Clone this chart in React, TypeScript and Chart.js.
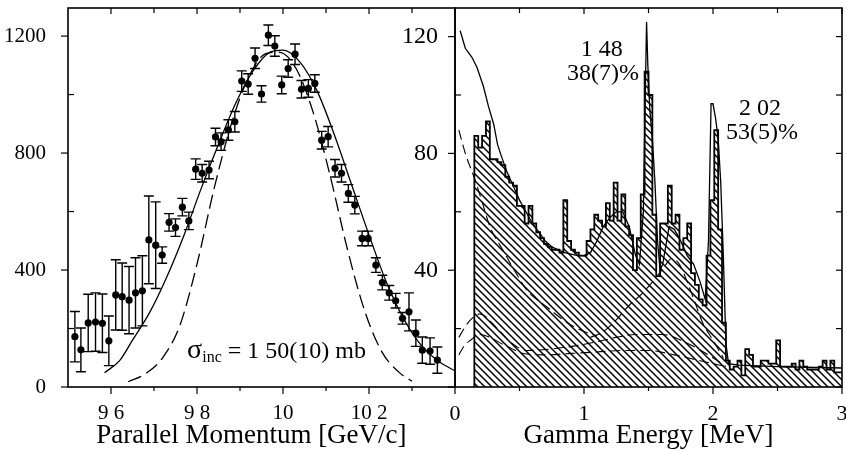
import React, { useEffect, useRef } from 'react';
import { Chart, registerables } from 'chart.js';

Chart.register(...registerables);

const SERIF = "'Liberation Serif', 'Times New Roman', Times, serif";

// ---------------- Left panel: parallel momentum ----------------
const momentumTicks = [9.6, 9.8, 10.0, 10.2];
const momentumTickLabels = ['9 6', '9 8', '10', '10 2'];
const momentumMinorTicks = [9.7, 9.9, 10.1, 10.3];
const yieldTicks = [0, 400, 800, 1200];
const yieldMinorTicks = [200, 600, 1000];

const momentum = [
  9.516, 9.530, 9.547, 9.564, 9.580, 9.595, 9.611, 9.626, 9.642, 9.657,
  9.673, 9.688, 9.704, 9.719, 9.735, 9.750, 9.766, 9.781, 9.797, 9.812,
  9.828, 9.843, 9.856, 9.873, 9.888, 9.904, 9.919, 9.935, 9.950, 9.966,
  9.981, 9.997, 10.012, 10.028, 10.043, 10.059, 10.074, 10.090, 10.105, 10.121,
  10.136, 10.152, 10.167, 10.184, 10.198, 10.216, 10.231, 10.247, 10.262, 10.278,
  10.293, 10.309, 10.324, 10.342, 10.359,
];
const counts = [
  172, 127, 219, 222, 218, 158, 315, 309, 297, 322,
  329, 503, 485, 451, 563, 545, 615, 568, 745, 731,
  742, 855, 839, 879, 907, 1046, 1036, 1124, 1002, 1203,
  1166, 1033, 1089, 1138, 1018, 1021, 1038, 844, 856, 748,
  731, 662, 622, 508, 508, 417, 357, 322, 295, 235,
  257, 184, 126, 123, 92,
];
const countErrors = [
  86, 75, 98, 100, 100, 85, 120, 115, 115, 120,
  120, 150, 148, 28, 30, 30, 30, 30, 35, 30,
  30, 30, 30, 35, 35, 35, 35, 35, 28, 35,
  35, 30, 30, 35, 30, 30, 30, 30, 35, 30,
  30, 30, 30, 25, 25, 25, 25, 25, 25, 20,
  65, 45, 45, 45, 45,
];

const fitMomentum = [
  9.585, 9.62, 9.65, 9.69, 9.73, 9.77, 9.81, 9.85, 9.89, 9.93, 9.97, 10.0,
  10.04, 10.08, 10.12, 10.16, 10.2, 10.24, 10.28, 10.32, 10.36, 10.4,
];
const fitCounts = [
  49, 90, 160, 255, 377, 520, 680, 830, 970, 1080, 1145, 1152,
  1110, 1010, 860, 690, 520, 360, 235, 145, 90, 55,
];

const narrowMomentum = [
  9.64, 9.68, 9.72, 9.76, 9.8, 9.84, 9.88, 9.92, 9.96, 9.99,
  10.03, 10.07, 10.11, 10.15, 10.19, 10.23, 10.27, 10.3,
];
const narrowCounts = [
  18, 45, 100, 210, 420, 680, 900, 1060, 1140, 1145,
  1090, 940, 720, 470, 260, 120, 50, 20,
];

// ---------------- Right panel: gamma energy ----------------
const energyTicks = [0, 1, 2, 3];
const energyMinorTicks = [0.5, 1.5, 2.5];
const gammaTicks = [0, 40, 80, 120];
const gammaLabelTicks = [40, 80, 120];
const gammaMinorTicks = [20, 60, 100];

const binEdges = [
  0.15, 0.18, 0.21, 0.24, 0.27, 0.30, 0.33, 0.36, 0.39, 0.42,
  0.45, 0.48, 0.51, 0.54, 0.57, 0.60, 0.63, 0.66, 0.69, 0.72,
  0.75, 0.78, 0.81, 0.84, 0.87, 0.90, 0.93, 0.96, 0.99, 1.02,
  1.05, 1.08, 1.11, 1.14, 1.17, 1.20, 1.23, 1.26, 1.29, 1.32,
  1.35, 1.38, 1.41, 1.44, 1.47, 1.50, 1.53, 1.56, 1.59, 1.62,
  1.65, 1.68, 1.71, 1.74, 1.77, 1.80, 1.83, 1.86, 1.89, 1.92,
  1.95, 1.98, 2.01, 2.04, 2.07, 2.10, 2.13, 2.16, 2.19, 2.22,
  2.25, 2.28, 2.31, 2.34, 2.37, 2.40, 2.43, 2.46, 2.49, 2.52,
  2.55, 2.58, 2.61, 2.64, 2.67, 2.70, 2.73, 2.76, 2.79, 2.82,
  2.85, 2.88, 2.91, 2.94, 2.97,
];
const histEnd = 3.0;
const binCounts = [
  7, 86, 82, 86, 91, 78, 78, 77, 76, 72,
  70, 69, 62, 62, 56, 62, 56, 53, 51, 49,
  48, 47, 47, 46, 64, 50, 47, 46, 45, 45,
  50, 54, 59, 57, 55, 63, 57, 70, 57, 66,
  55, 52, 40, 51, 66, 108, 100, 59, 38, 56,
  56, 69, 56, 59, 47, 51, 56, 39, 35, 30,
  28, 45, 64, 88, 54, 22, 9, 6, 7, 9,
  4, 13, 11, 7, 7, 9, 9, 8, 8, 16,
  7, 7, 7, 8, 6, 9, 7, 6, 6, 6,
  7, 9, 6, 9, 5,
];

const fitEnergy = [
  0.04, 0.08, 0.13, 0.17, 0.22, 0.26, 0.30, 0.33, 0.36, 0.40,
  0.45, 0.50, 0.55, 0.60, 0.65, 0.70, 0.75, 0.80, 0.85, 0.90,
  0.95, 1.00, 1.05, 1.10, 1.15, 1.20, 1.25, 1.30, 1.35, 1.40,
  1.43, 1.46, 1.475, 1.485, 1.495, 1.51, 1.53, 1.55, 1.57, 1.59,
  1.61, 1.66, 1.70, 1.75, 1.80, 1.85, 1.90, 1.94, 1.965, 1.985,
  2.00, 2.02, 2.04, 2.06, 2.08, 2.10, 2.12, 2.20, 2.50, 3.00,
];
const fitGamma = [
  122, 116, 113, 109.5, 103, 96, 90, 83, 79, 74,
  69, 64, 60, 56, 53, 50, 48, 47, 46, 45.5,
  45, 45, 46, 50, 55, 58, 60, 60, 55, 45,
  42, 60, 100, 125, 110, 95, 85, 70, 50, 40,
  42, 55, 54, 50, 45, 42, 36, 30, 50, 97,
  97, 92, 85, 70, 45, 15, 8, 7.5, 7, 6.5,
];

const comptonEnergy = [0.03, 0.08, 0.155, 0.22, 0.27, 0.37, 0.46, 0.56, 0.71, 0.87, 1.0, 1.1];
const comptonGamma = [88, 80, 71, 62, 55, 47, 40, 33, 27.5, 22, 19, 17.5];

const edgeEnergy = [1.05, 1.15, 1.25, 1.35, 1.45, 1.55, 1.62, 1.68, 1.74, 1.80, 1.86, 1.92, 2.0, 2.08];
const edgeGamma = [17, 19, 23, 28, 32, 37, 41, 44, 42, 36, 29, 22, 16, 10];

const bgAEnergy = [0.03, 0.07, 0.12, 0.19, 0.34, 0.44, 0.56, 0.74, 0.92, 1.1, 1.25, 1.4, 1.6, 1.8, 2.0, 2.1];
const bgAGamma = [17, 20, 23, 25, 19.5, 15, 12.5, 13, 14, 15.5, 17, 18, 18, 15, 10, 7];

const bgBEnergy = [0.03, 0.07, 0.12, 0.19, 0.4, 0.53, 0.7, 0.9, 1.1, 1.3, 1.5, 1.7, 1.9, 2.1];
const bgBGamma = [11, 14, 16, 18, 14, 11.5, 11, 11.5, 12, 12.5, 12.5, 11, 9, 7];

// ---------------- helpers ----------------
const pts = (xs: number[], ys: number[]) => xs.map((x, i) => ({ x, y: ys[i] }));

const framePlugin = {
  id: 'frame',
  afterDatasetsDraw(chart: any, _a: any, opts: any) {
    const { ctx, chartArea: a, scales } = chart;
    const xs = scales.x;
    const ys = scales.y;
    const seg = (x1: number, y1: number, x2: number, y2: number) => {
      ctx.beginPath();
      ctx.moveTo(x1, y1);
      ctx.lineTo(x2, y2);
      ctx.stroke();
    };
    ctx.save();
    ctx.strokeStyle = '#000';
    ctx.lineWidth = 1.6;
    ctx.strokeRect(a.left, a.top, a.right - a.left, a.bottom - a.top);
    ctx.lineWidth = 1.2;
    for (const v of opts.xMajor) {
      const p = xs.getPixelForValue(v);
      seg(p, a.bottom, p, a.bottom + 7);
      seg(p, a.top, p, a.top + 6);
    }
    for (const v of opts.xMinor) {
      const p = xs.getPixelForValue(v);
      seg(p, a.bottom, p, a.bottom + 4);
      seg(p, a.top, p, a.top + 5);
    }
    for (const v of opts.yMajor) {
      const p = ys.getPixelForValue(v);
      seg(a.left - 7, p, a.left, p);
      if (opts.right) seg(a.right - 6, p, a.right, p);
    }
    for (const v of opts.yMinor) {
      const p = ys.getPixelForValue(v);
      seg(a.left, p, a.left + 6, p);
      if (opts.right) seg(a.right - 6, p, a.right, p);
    }
    ctx.restore();
  },
};

const errorBarPlugin = {
  id: 'errorBars',
  beforeDatasetsDraw(chart: any, _a: any, opts: any) {
    if (!opts || !opts.xs) return;
    const { ctx, scales } = chart;
    const xs = scales.x;
    const ys = scales.y;
    ctx.save();
    ctx.strokeStyle = '#000';
    ctx.lineWidth = 1.4;
    opts.xs.forEach((xv: number, i: number) => {
      const px = xs.getPixelForValue(xv);
      const top = ys.getPixelForValue(opts.ys[i] + opts.errs[i]);
      const bot = ys.getPixelForValue(opts.ys[i] - opts.errs[i]);
      ctx.beginPath();
      ctx.moveTo(px, top);
      ctx.lineTo(px, bot);
      ctx.moveTo(px - 5, top);
      ctx.lineTo(px + 5, top);
      ctx.moveTo(px - 5, bot);
      ctx.lineTo(px + 5, bot);
      ctx.stroke();
    });
    ctx.restore();
  },
};

const notesPlugin = {
  id: 'notes',
  afterDatasetsDraw(chart: any, _a: any, opts: any) {
    if (!opts || !opts.items) return;
    const { ctx, scales } = chart;
    const xs = scales.x;
    const ys = scales.y;
    ctx.save();
    ctx.fillStyle = '#000';
    ctx.textBaseline = 'alphabetic';
    ctx.textAlign = 'left';
    for (const note of opts.items) {
      let px = xs.getPixelForValue(note.x);
      const py = ys.getPixelForValue(note.y);
      let total = 0;
      for (const r of note.runs) {
        ctx.font = `${r.size}px ${SERIF}`;
        total += ctx.measureText(r.text).width;
      }
      if (note.align === 'center') px -= total / 2;
      for (const r of note.runs) {
        ctx.font = `${r.size}px ${SERIF}`;
        ctx.fillText(r.text, px, py + (r.dy || 0));
        px += ctx.measureText(r.text).width;
      }
    }
    ctx.restore();
  },
};

function makeHatch(ctx: CanvasRenderingContext2D): CanvasPattern | string {
  const c = document.createElement('canvas');
  c.width = 7;
  c.height = 7;
  const g = c.getContext('2d');
  if (!g) return '#999';
  g.strokeStyle = '#000';
  g.lineWidth = 1.5;
  g.beginPath();
  g.moveTo(0, 0);
  g.lineTo(7, 7);
  g.moveTo(-1, 6);
  g.lineTo(1, 8);
  g.moveTo(6, -1);
  g.lineTo(8, 1);
  g.stroke();
  return ctx.createPattern(c, 'repeat') || '#999';
}

const setTicks = (values: number[]) => (s: any) => {
  s.ticks = values.map((value) => ({ value }));
};

function leftConfig(): any {
  return {
    type: 'scatter',
    data: {
      datasets: [
        {
          data: pts(fitMomentum, fitCounts),
          showLine: true,
          borderColor: '#000',
          borderWidth: 1.3,
          pointRadius: 0,
          cubicInterpolationMode: 'monotone',
          fill: false,
        },
        {
          data: pts(narrowMomentum, narrowCounts),
          showLine: true,
          borderColor: '#000',
          borderWidth: 1.3,
          borderDash: [14, 6],
          pointRadius: 0,
          cubicInterpolationMode: 'monotone',
          fill: false,
        },
        {
          data: pts(momentum, counts),
          showLine: false,
          pointRadius: 3.6,
          pointBackgroundColor: '#000',
          pointBorderColor: '#000',
          pointBorderWidth: 0,
        },
      ],
    },
    options: {
      animation: false,
      responsive: false,
      events: [],
      layout: { padding: { top: 8, right: 391, bottom: 0, left: 0 } },
      plugins: {
        legend: { display: false },
        tooltip: { enabled: false },
        frame: { xMajor: momentumTicks, xMinor: momentumMinorTicks, yMajor: yieldTicks, yMinor: yieldMinorTicks, right: false },
        errorBars: { xs: momentum, ys: counts, errs: countErrors },
        notes: {
          items: [
            {
              x: 9.777,
              y: 99,
              runs: [
                { text: 'σ', size: 28 },
                { text: 'inc', size: 16, dy: 4 },
                { text: ' = 1 50(10) mb', size: 24 },
              ],
            },
          ],
        },
      },
      scales: {
        x: {
          type: 'linear',
          min: 9.5,
          max: 10.4,
          afterBuildTicks: setTicks(momentumTicks),
          afterFit: (s: any) => {
            s.height = 63;
            s.paddingLeft = 0;
            s.paddingRight = 0;
          },
          grid: { display: false },
          border: { display: false },
          ticks: {
            autoSkip: false,
            maxRotation: 0,
            padding: 6,
            color: '#000',
            font: { family: SERIF, size: 21 },
            callback: (_v: any, i: number) => momentumTickLabels[i],
          },
          title: {
            display: true,
            text: 'Parallel Momentum [GeV/c]   ',
            color: '#000',
            font: { family: SERIF, size: 27, lineHeight: 1 },
            padding: { top: 0, bottom: 1 },
          },
        },
        y: {
          type: 'linear',
          min: 0,
          max: 1296,
          afterBuildTicks: setTicks(yieldTicks),
          afterFit: (s: any) => {
            s.width = 68;
            s.paddingTop = 0;
            s.paddingBottom = 0;
          },
          grid: { display: false },
          border: { display: false },
          ticks: {
            padding: 14,
            color: '#000',
            font: { family: SERIF, size: 21 },
            callback: (v: any) => String(v),
          },
        },
      },
    },
    plugins: [errorBarPlugin, framePlugin, notesPlugin],
  };
}

function rightConfig(hatch: any): any {
  const histData = [
    { x: binEdges[0], y: 0 },
    ...pts(binEdges, binCounts),
    { x: histEnd, y: binCounts[binCounts.length - 1] },
  ];
  const dashed = (xs: number[], ys: number[]) => ({
    data: pts(xs, ys),
    showLine: true,
    borderColor: '#000',
    borderWidth: 1.1,
    borderDash: [10, 5],
    pointRadius: 0,
    cubicInterpolationMode: 'monotone',
    fill: false,
  });
  return {
    type: 'scatter',
    data: {
      datasets: [
        {
          data: histData,
          showLine: true,
          stepped: 'after',
          fill: 'origin',
          backgroundColor: hatch,
          borderColor: '#000',
          borderWidth: 1.8,
          pointRadius: 0,
        },
        dashed(comptonEnergy, comptonGamma),
        dashed(edgeEnergy, edgeGamma),
        dashed(bgAEnergy, bgAGamma),
        dashed(bgBEnergy, bgBGamma),
        {
          data: pts(fitEnergy, fitGamma),
          showLine: true,
          borderColor: '#000',
          borderWidth: 1.3,
          pointRadius: 0,
          tension: 0,
          fill: false,
        },
      ],
    },
    options: {
      animation: false,
      responsive: false,
      events: [],
      layout: { padding: { top: 8, right: 4, bottom: 0, left: 0 } },
      plugins: {
        legend: { display: false },
        tooltip: { enabled: false },
        frame: { xMajor: energyTicks, xMinor: energyMinorTicks, yMajor: gammaTicks, yMinor: gammaMinorTicks, right: true },
        notes: {
          items: [
            { x: 1.137, y: 113.2, align: 'center', runs: [{ text: '1 48', size: 24 }] },
            { x: 1.147, y: 105, align: 'center', runs: [{ text: '38(7)%', size: 24 }] },
            { x: 2.364, y: 93.3, align: 'center', runs: [{ text: '2 02', size: 24 }] },
            { x: 2.38, y: 85.1, align: 'center', runs: [{ text: '53(5)%', size: 24 }] },
          ],
        },
      },
      scales: {
        x: {
          type: 'linear',
          min: 0,
          max: 3,
          afterBuildTicks: setTicks(energyTicks),
          afterFit: (s: any) => {
            s.height = 63;
            s.paddingLeft = 0;
            s.paddingRight = 0;
          },
          grid: { display: false },
          border: { display: false },
          ticks: {
            autoSkip: false,
            maxRotation: 0,
            padding: 6,
            color: '#000',
            font: { family: SERIF, size: 22 },
          },
          title: {
            display: true,
            text: 'Gamma Energy [MeV]',
            color: '#000',
            font: { family: SERIF, size: 27, lineHeight: 1 },
            padding: { top: 0, bottom: 1 },
          },
        },
        y: {
          type: 'linear',
          min: 0,
          max: 129.8,
          afterBuildTicks: setTicks(gammaLabelTicks),
          afterFit: (s: any) => {
            s.width = 455;
            s.paddingTop = 0;
            s.paddingBottom = 0;
          },
          grid: { display: false },
          border: { display: false },
          ticks: {
            padding: 9,
            color: '#000',
            font: { family: SERIF, size: 24 },
            callback: (v: any) => String(v),
          },
        },
      },
    },
    plugins: [framePlugin, notesPlugin],
  };
}

export default function App() {
  const leftRef = useRef<HTMLCanvasElement>(null);
  const rightRef = useRef<HTMLCanvasElement>(null);

  useEffect(() => {
    if (!leftRef.current || !rightRef.current) return;
    const left = new Chart(leftRef.current, leftConfig());
    const rctx = rightRef.current.getContext('2d') as CanvasRenderingContext2D;
    const hatch = makeHatch(rctx);
    const right = new Chart(rightRef.current, rightConfig(hatch));
    return () => {
      left.destroy();
      right.destroy();
    };
  }, []);

  return (
    <div style={{ position: 'absolute', left: 0, top: 0, width: 846, height: 450, background: '#fff' }}>
      <canvas ref={leftRef} width={846} height={450} style={{ position: 'absolute', left: 0, top: 0 }} />
      <canvas ref={rightRef} width={846} height={450} style={{ position: 'absolute', left: 0, top: 0 }} />
    </div>
  );
}
